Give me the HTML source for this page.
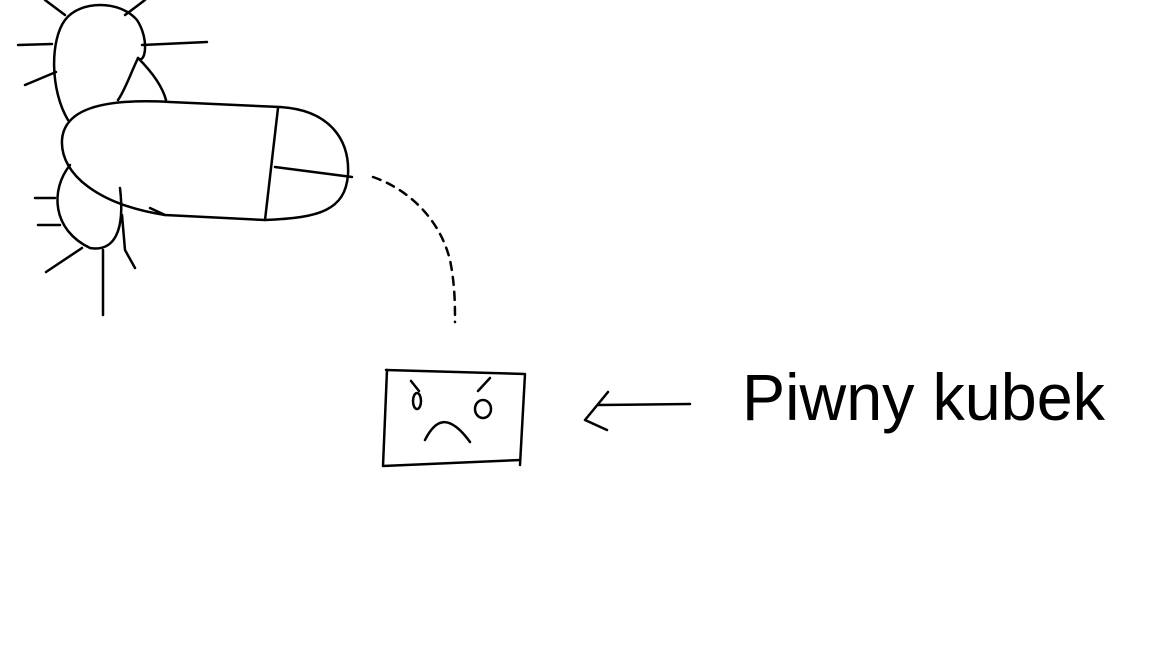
<!DOCTYPE html>
<html><head><meta charset="utf-8"><style>
html,body{margin:0;padding:0;background:#fff;width:1152px;height:648px;overflow:hidden}
svg{display:block}
</style></head><body>
<svg width="1152" height="648" viewBox="0 0 1152 648" xmlns="http://www.w3.org/2000/svg">
<rect width="1152" height="648" fill="#fff"/>
<g fill="none" stroke="#000" stroke-width="2.5" stroke-linecap="round" stroke-linejoin="round">
 <g>
  <path d="M68,120 C50,90 50,40 65,20 C80,0 120,0 137,20 C150,40 145,65 138,58 C130,75 125,90 118,100"/>
  <path d="M170,102 L280,107 C330,110 350,140 348,175 C345,210 320,218 265,220 L165,215 C100,205 60,175 62,140 C64,110 100,98 170,102"/>
  <path d="M278,108 L265,220 M275,167 L352,177"/>
  <path d="M70,165 C50,190 52,230 90,248 C115,252 125,230 120,188"/>
  <path d="M45,0 L65,15 M125,15 L145,0 M18,45 L52,44 M25,85 L56,72 M142,45 L207,42 M138,58 C150,70 162,85 166,100 M35,198 L55,198 M38,225 L60,225 M46,272 L82,248 M103,250 L103,315 M122,215 L125,250 L135,268 M150,208 L165,215"/>
 </g>
 <path d="M373,177 C410,190 440,220 450,260 C455,285 455,305 455,322" stroke-dasharray="8,7"/>
 <g>
  <path d="M386,370 L525,374 L520,465 M387,370 L383,466 L520,460"/>
  <ellipse cx="417" cy="401" rx="4" ry="8"/>
  <path d="M411,381 L419,391"/>
  <ellipse cx="483" cy="409" rx="8" ry="9"/>
  <path d="M478,391 L490,378"/>
  <path d="M425,440 C435,420 448,412 470,442"/>
 </g>
 <path d="M598,405 L690,404 M608,392 L585,420 L607,430"/>
</g>
<text x="742" y="420" textLength="363" lengthAdjust="spacingAndGlyphs" font-family="Liberation Sans, sans-serif" font-size="66" fill="#000">Piwny kubek</text>
</svg>
</body></html>
